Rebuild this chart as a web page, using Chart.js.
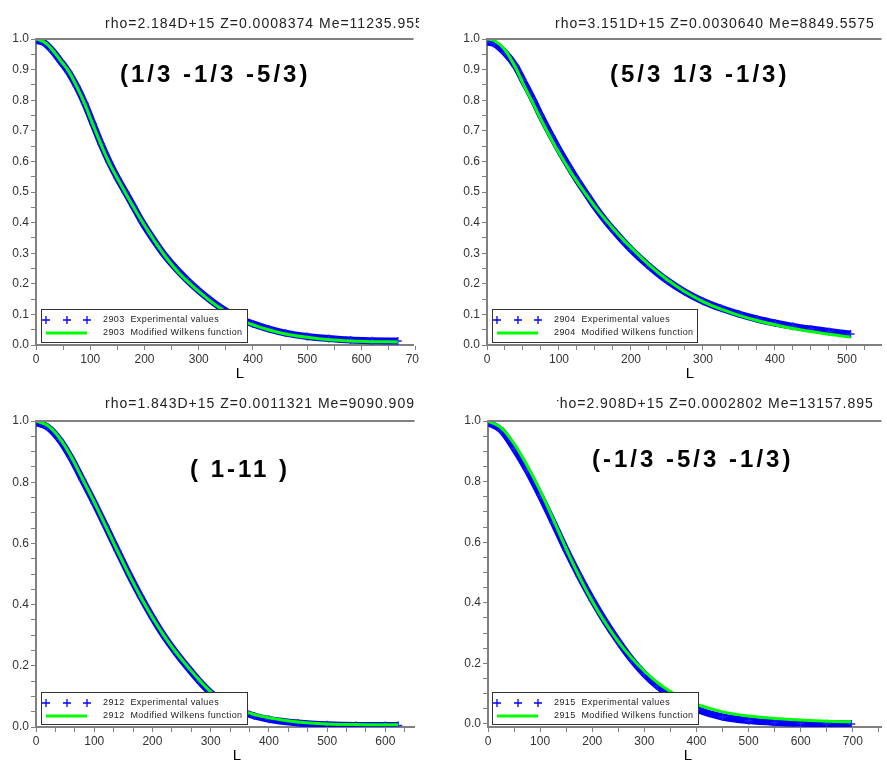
<!DOCTYPE html>
<html>
<head>
<meta charset="utf-8">
<script src="https://cdn.jsdelivr.net/npm/chart.js@4"></script>
<style>
  body { margin: 0; background: #fff; width: 887px; height: 760px; position: relative; overflow: hidden; }
  canvas { position: absolute; }
</style>
</head>
<body>
<canvas id="c1"></canvas>
<canvas id="c2"></canvas>
<canvas id="c3"></canvas>
<canvas id="c4"></canvas>
<script>
// --- data ---
const L1 = [0, 15, 30, 45, 60, 75, 90, 105, 120, 135, 150, 165, 180, 195, 210, 225, 240, 260, 280, 300, 320, 340, 360, 380, 400, 430, 460, 500, 540, 580, 620, 667]
const exp1 = [0.995, 0.988, 0.962, 0.928, 0.892, 0.845, 0.789, 0.723, 0.657, 0.598, 0.546, 0.499, 0.452, 0.404, 0.362, 0.323, 0.287, 0.246, 0.21, 0.178, 0.149, 0.123, 0.101, 0.083, 0.069, 0.052, 0.039, 0.028, 0.021, 0.016, 0.014, 0.013]
const fit1 = [1.0, 0.99, 0.965, 0.93, 0.895, 0.845, 0.787, 0.72, 0.655, 0.595, 0.545, 0.497, 0.45, 0.405, 0.363, 0.323, 0.286, 0.243, 0.207, 0.175, 0.146, 0.12, 0.098, 0.08, 0.066, 0.049, 0.036, 0.025, 0.017, 0.013, 0.011, 0.010]

const L2 = [0, 10, 25, 40, 50, 65, 75, 90, 100, 115, 125, 140, 150, 165, 175, 190, 200, 225, 250, 275, 300, 325, 350, 375, 400, 425, 450, 475, 505]
const exp2 = [0.99, 0.985, 0.955, 0.91, 0.865, 0.797, 0.748, 0.681, 0.638, 0.578, 0.54, 0.487, 0.452, 0.405, 0.377, 0.337, 0.312, 0.258, 0.211, 0.173, 0.143, 0.12, 0.101, 0.085, 0.072, 0.061, 0.052, 0.044, 0.036]
const fit2 = [1.0, 0.995, 0.964, 0.905, 0.855, 0.785, 0.737, 0.67, 0.628, 0.57, 0.534, 0.484, 0.452, 0.408, 0.381, 0.342, 0.318, 0.262, 0.214, 0.174, 0.142, 0.117, 0.097, 0.08, 0.066, 0.054, 0.044, 0.035, 0.026]

const L3 = [0, 20, 40, 60, 80, 100, 120, 140, 160, 180, 200, 220, 240, 260, 280, 300, 325, 350, 375, 400, 450, 500, 550, 600, 622]
const exp3 = [0.995, 0.98, 0.94, 0.88, 0.807, 0.733, 0.655, 0.576, 0.498, 0.425, 0.358, 0.297, 0.244, 0.196, 0.151, 0.112, 0.078, 0.053, 0.036, 0.025, 0.013, 0.007, 0.005, 0.005, 0.005]
const fit3 = [1.0, 0.985, 0.945, 0.885, 0.81, 0.735, 0.655, 0.575, 0.497, 0.424, 0.358, 0.298, 0.245, 0.198, 0.154, 0.115, 0.081, 0.057, 0.041, 0.03, 0.016, 0.01, 0.008, 0.007, 0.007]

const L4 = [0, 25, 50, 75, 100, 125, 150, 175, 200, 225, 250, 275, 300, 325, 350, 375, 400, 450, 500, 550, 600, 650, 697]
const exp4 = [0.995, 0.97, 0.91, 0.838, 0.755, 0.666, 0.574, 0.489, 0.41, 0.338, 0.273, 0.214, 0.165, 0.125, 0.093, 0.067, 0.048, 0.023, 0.011, 0.005, 0.002, 0.001, 0.0]
const fit4 = [1.0, 0.978, 0.925, 0.853, 0.77, 0.676, 0.578, 0.487, 0.405, 0.334, 0.272, 0.219, 0.174, 0.137, 0.107, 0.083, 0.065, 0.04, 0.026, 0.018, 0.013, 0.009, 0.007]

const ids = ["2903", "2904", "2912", "2915"]
const titles = [
  "rho=2.184D+15 Z=0.0008374 Me=11235.955",
  "rho=3.151D+15 Z=0.0030640 Me=8849.5575",
  "rho=1.843D+15 Z=0.0011321 Me=9090.909",
  "rho=2.908D+15 Z=0.0002802 Me=13157.895",
]
const notes = ["(1/3 -1/3 -5/3)", "(5/3 1/3 -1/3)", "( 1-11 )", "(-1/3 -5/3 -1/3)"]
const xLabels = [0, 100, 200, 300, 400, 500, 600, 700]
const yLabelsFine = [0, 0.1, 0.2, 0.3, 0.4, 0.5, 0.6, 0.7, 0.8, 0.9, 1.0]
const yLabelsCoarse = [0, 0.2, 0.4, 0.6, 0.8, 1.0]

const FONT = "'Liberation Sans', Arial, Helvetica, sans-serif"

// canvas placement and plot box of every panel
const panels = [
  { id: "c1", x: 0, y: 0, w: 419, h: 380, left: 36, top: 39, bottom: 345, xMax: 696, xTickMax: 700, xMinor: 50, yMin: 0, yLabels: yLabelsFine,
    L: L1, exp: exp1, fit: fit1, titleX: 105, noteX: 120, noteY: 82, box: { x: 41, y: 309, w: 206, h: 33 }, Lx: 240 },
  { id: "c2", x: 443, y: 0, w: 444, h: 380, left: 44, top: 39, bottom: 345, xMax: 548, xTickMax: 548, xMinor: 25, yMin: 0, yLabels: yLabelsFine,
    L: L2, exp: exp2, fit: fit2, titleX: 112, noteX: 167, noteY: 82, box: { x: 49, y: 309, w: 205, h: 33 }, Lx: 247 },
  { id: "c3", x: 0, y: 380, w: 420, h: 380, left: 36, top: 41, bottom: 347, xMax: 650, xTickMax: 650, xMinor: 100 / 3, yMin: 0, yLabels: yLabelsCoarse,
    L: L3, exp: exp3, fit: fit3, titleX: 105, noteX: 190, noteY: 97, box: { x: 41, y: 312, w: 206, h: 32 }, Lx: 237 },
  { id: "c4", x: 443, y: 380, w: 444, h: 380, left: 45, top: 41, bottom: 347, xMax: 755, xTickMax: 755, xMinor: 50, yMin: -0.01, yLabels: yLabelsCoarse,
    L: L4, exp: exp4, fit: fit4, titleX: 111, titleClip: 114, noteX: 149, noteY: 87, box: { x: 49, y: 312, w: 206, h: 32 }, Lx: 245 },
]

const decor = {
  id: "decor",
  afterDraw(chart, args, o) {
    const { ctx, chartArea: a } = chart
    ctx.save()
    // top frame line
    ctx.strokeStyle = "#808080"
    ctx.lineWidth = 2
    ctx.beginPath()
    ctx.moveTo(a.left, a.top)
    ctx.lineTo(a.right, a.top)
    ctx.stroke()

    // header text
    ctx.save()
    if (o.titleClip) {
      ctx.beginPath()
      ctx.rect(o.titleClip, 0, chart.width, chart.height)
      ctx.clip()
    }
    ctx.fillStyle = "#222"
    ctx.font = "14px " + FONT
    ctx.letterSpacing = "1px"
    ctx.textBaseline = "alphabetic"
    ctx.textAlign = "left"
    ctx.fillText(o.title, o.titleX, 28)
    ctx.restore()

    // big orientation label
    ctx.fillStyle = "#000"
    ctx.font = "bold 24px " + FONT
    ctx.letterSpacing = "3px"
    ctx.textAlign = "left"
    ctx.fillText(o.note, o.noteX, o.noteY)

    // axis name
    ctx.letterSpacing = "0px"
    ctx.font = "15px " + FONT
    ctx.textBaseline = "top"
    ctx.textAlign = "center"
    ctx.fillText("L", o.Lx, a.bottom + 21)

    // legend box
    const b = o.box
    ctx.fillStyle = "#fff"
    ctx.fillRect(b.x, b.y, b.w, b.h)
    ctx.strokeStyle = "#333"
    ctx.lineWidth = 1
    ctx.strokeRect(b.x + 0.5, b.y + 0.5, b.w, b.h)
    const r1 = b.y + 11, r2 = b.y + 24
    ctx.strokeStyle = "#0000ff"
    ctx.lineWidth = 1.3
    for (const dx of [5, 26, 46]) {
      const cx = b.x + dx
      ctx.beginPath()
      ctx.moveTo(cx - 4, r1); ctx.lineTo(cx + 4, r1)
      ctx.moveTo(cx, r1 - 4); ctx.lineTo(cx, r1 + 4)
      ctx.stroke()
    }
    ctx.strokeStyle = "#00ff00"
    ctx.lineWidth = 3
    ctx.beginPath()
    ctx.moveTo(b.x + 5, r2); ctx.lineTo(b.x + 46, r2)
    ctx.stroke()
    ctx.fillStyle = "#222"
    ctx.font = "9px " + FONT
    ctx.letterSpacing = "0.4px"
    ctx.textAlign = "left"
    ctx.textBaseline = "middle"
    ctx.fillText(chart.data.datasets[0].label, b.x + 62, r1)
    ctx.fillText(chart.data.datasets[1].label, b.x + 62, r2)
    ctx.restore()
  }
}

function range(from, to, step) {
  const out = []
  for (let i = 0; from + i * step <= to + 1e-9; i++) out.push(+(from + i * step).toFixed(6))
  return out
}

function isLabel(list, v) {
  return list.some(t => Math.abs(t - v) < 1e-6)
}

panels.forEach((p, k) => {
  const cv = document.getElementById(p.id)
  cv.width = p.w
  cv.height = p.h
  cv.style.left = p.x + "px"
  cv.style.top = p.y + "px"
  cv.style.width = p.w + "px"
  cv.style.height = p.h + "px"

  new Chart(cv.getContext("2d"), {
    type: "scatter",
    data: {
      datasets: [
        {
          label: ids[k] + "  Experimental values",
          data: p.L.map((x, i) => ({ x, y: p.exp[i] })),
          showLine: true,
          borderColor: "#0000ff",
          borderWidth: 7,
          cubicInterpolationMode: "monotone",
          pointStyle: "cross",
          pointRadius: 4,
          pointBorderWidth: 1.5,
          pointBorderColor: "#2020ff",
          pointBackgroundColor: "#0000ff",
          order: 2,
        },
        {
          label: ids[k] + "  Modified Wilkens function",
          data: p.L.map((x, i) => ({ x, y: p.fit[i] })),
          showLine: true,
          borderColor: "#00ff00",
          borderWidth: 3,
          cubicInterpolationMode: "monotone",
          pointRadius: 0,
          order: 1,
        },
      ],
    },
    options: {
      responsive: false,
      devicePixelRatio: 1,
      animation: false,
      layout: { padding: { top: p.top, left: 0, right: 0, bottom: 0 } },
      plugins: {
        legend: { display: false },
        tooltip: { enabled: false },
        decor: { title: titles[k], titleX: p.titleX, titleClip: p.titleClip, note: notes[k], noteX: p.noteX, noteY: p.noteY, box: p.box, Lx: p.Lx },
      },
      scales: {
        x: {
          type: "linear",
          min: 0,
          max: p.xMax,
          afterBuildTicks: s => { s.ticks = range(0, p.xTickMax, p.xMinor).map(v => ({ value: v })) },
          afterFit: s => { s.height = p.h - p.bottom; s.paddingLeft = 0; s.paddingRight = 0 },
          grid: { drawOnChartArea: false, tickLength: 5, color: "#808080", tickColor: "#808080" },
          border: { display: true, color: "#808080", width: 2 },
          ticks: {
            autoSkip: false,
            maxRotation: 0,
            padding: 2,
            color: "#333",
            font: { family: FONT, size: 12 },
            callback: v => (isLabel(xLabels, v) ? String(Math.round(v)) : ""),
          },
        },
        y: {
          type: "linear",
          min: p.yMin,
          max: 1,
          afterBuildTicks: s => { s.ticks = range(0, 1, 0.05).map(v => ({ value: v })) },
          afterFit: s => { s.width = p.left; s.paddingTop = 0; s.paddingBottom = 0 },
          grid: { drawOnChartArea: false, tickLength: 5, color: "#808080", tickColor: "#808080" },
          border: { display: true, color: "#808080", width: 2 },
          ticks: {
            autoSkip: false,
            padding: 2,
            color: "#333",
            font: { family: FONT, size: 12 },
            callback: v => (isLabel(p.yLabels, v) ? v.toFixed(1) : ""),
          },
        },
      },
    },
    plugins: [decor],
  })
})
</script>
</body>
</html>
